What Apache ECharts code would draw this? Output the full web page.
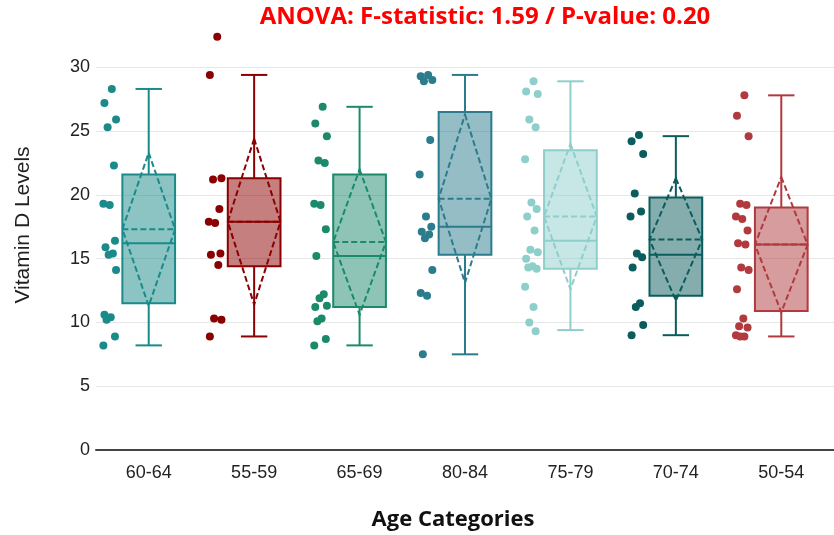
<!DOCTYPE html>
<html>
<head>
<meta charset="utf-8">
<script src="https://cdn.jsdelivr.net/npm/echarts@6/dist/echarts.min.js"></script>
<style>
    html, body { margin: 0; padding: 0; background: #fff; }
    #chart { width: 834px; height: 535px; }
</style>
</head>
<body>
<div id="chart"></div>
<script>
// 年龄组
var categories = ['60-64', '55-59', '65-69', '80-84', '75-79', '70-74', '50-54'];
var groupColors = ['#1a8a8a', '#8b0000', '#1b8a6b', '#2b7c8c', '#8ecfcb', '#0b5c5c', '#b03a3e'];

// 每组的原始点
var points_6064 = [28.3, 27.2, 25.9, 25.3, 22.3, 19.3, 19.2, 16.4, 15.9, 15.4, 15.3, 14.1, 10.6, 10.4, 10.2, 8.9, 8.2];
var points_5559 = [32.4, 29.4, 21.3, 21.2, 18.9, 17.9, 17.8, 15.4, 15.3, 14.5, 10.3, 10.2, 8.9];
var points_6569 = [26.9, 25.6, 24.6, 22.7, 22.5, 19.3, 19.2, 17.3, 15.2, 12.2, 11.9, 11.3, 11.2, 10.3, 10.1, 8.7, 8.2];
var points_8084 = [29.4, 29.3, 29.0, 28.9, 24.3, 21.6, 18.3, 17.5, 17.1, 16.9, 16.6, 14.1, 12.3, 12.1, 7.5];
var points_7579 = [28.9, 28.1, 27.9, 25.9, 25.3, 22.8, 19.4, 18.9, 18.3, 17.2, 15.7, 15.5, 15.0, 14.4, 14.3, 14.2, 12.8, 11.2, 10.0, 9.3];
var points_7074 = [24.7, 24.2, 23.2, 20.1, 18.7, 18.3, 15.4, 15.1, 14.3, 11.5, 11.2, 9.8, 9.0];
var points_5054 = [27.8, 26.2, 24.6, 19.3, 19.2, 18.3, 18.1, 17.2, 16.2, 16.1, 14.3, 14.1, 12.6, 10.3, 9.7, 9.6, 9.0, 8.9, 8.9];
var allPoints = [points_6064, points_5559, points_6569, points_8084, points_7579, points_7074, points_5054];

// 箱线统计 (按组顺序)
var whiskerLow = [8.2, 8.9, 8.2, 7.5, 9.4, 9.0, 8.9];
var q1Values = [11.5, 14.4, 11.2, 15.3, 14.2, 12.1, 10.9];
var medianValues = [16.2, 17.9, 15.2, 17.5, 16.4, 15.3, 16.1];
var q3Values = [21.6, 21.3, 21.6, 26.5, 23.5, 19.8, 19.0];
var whiskerHigh = [28.3, 29.4, 26.9, 29.4, 28.9, 24.6, 27.8];
var meanValues = [17.3, 17.9, 16.3, 19.7, 18.3, 16.5, 16.1];
var sdValues = [6.0, 6.5, 5.7, 6.6, 5.7, 4.8, 5.3];

var yTicks = [0, 5, 10, 15, 20, 25, 30];

// 点的抖动
var jitter = [0.02, -0.05, 0.06, -0.02, 0.04, -0.06, 0.0, 0.05, -0.04, 0.03, -0.01, 0.06, -0.05, 0.01, -0.03, 0.05, -0.06, 0.02, -0.02, 0.04];

function hexToRgba(hex, a) {
    var r = parseInt(hex.slice(1, 3), 16), g = parseInt(hex.slice(3, 5), 16), b = parseInt(hex.slice(5, 7), 16);
    return 'rgba(' + r + ',' + g + ',' + b + ',' + a + ')';
}

var boxData = categories.map(function (c, i) {
    return [i, whiskerLow[i], q1Values[i], medianValues[i], q3Values[i], whiskerHigh[i], meanValues[i], sdValues[i]];
});

function renderBox(params, api) {
    var i = api.value(0);
    var color = groupColors[i];
    var cx = api.coord([i, 0])[0];
    var band = api.size([1, 0])[0];
    var half = band * 0.25;
    var cap = half * 0.5;
    function Y(v) { return api.coord([i, v])[1]; }
    var lo = Y(api.value(1)), q1 = Y(api.value(2)), med = Y(api.value(3)),
        q3 = Y(api.value(4)), hi = Y(api.value(5));
    var mean = api.value(6), sd = api.value(7);
    var ym = Y(mean), ytop = Y(mean + sd), ybot = Y(mean - sd);
    var solid = { stroke: color, lineWidth: 2, fill: null };
    var dashed = { stroke: color, lineWidth: 2, fill: null, lineDash: [6, 3] };
    return {
        type: 'group',
        children: [
            { type: 'line', shape: { x1: cx, y1: q3, x2: cx, y2: hi }, style: solid },
            { type: 'line', shape: { x1: cx - cap, y1: hi, x2: cx + cap, y2: hi }, style: solid },
            { type: 'line', shape: { x1: cx, y1: q1, x2: cx, y2: lo }, style: solid },
            { type: 'line', shape: { x1: cx - cap, y1: lo, x2: cx + cap, y2: lo }, style: solid },
            { type: 'rect', shape: { x: cx - half, y: q3, width: half * 2, height: q1 - q3 },
              style: { fill: hexToRgba(color, 0.5), stroke: color, lineWidth: 2 } },
            { type: 'line', shape: { x1: cx - half, y1: med, x2: cx + half, y2: med }, style: solid },
            { type: 'line', shape: { x1: cx - half, y1: ym, x2: cx + half, y2: ym }, style: dashed },
            { type: 'polygon', shape: { points: [[cx, ytop], [cx + half, ym], [cx, ybot], [cx - half, ym]] }, style: dashed }
        ]
    };
}

var scatterSeries = allPoints.map(function (arr, i) {
    return {
        type: 'scatter',
        xAxisIndex: 1,
        symbolSize: 8,
        itemStyle: { color: groupColors[i], opacity: 1 },
        silent: true,
        z: 3,
        data: arr.map(function (v, k) { return [i - 0.37 + jitter[k % jitter.length], v]; })
    };
});

var chart = echarts.init(document.getElementById('chart'));

var gridColors = yTicks.map(function () { return '#e6e6e6'; });
gridColors.push('rgba(0,0,0,0)');

var option = {
    animation: false,
    backgroundColor: '#fff',
    grid: { left: 96, top: 29, bottom: 85, width: 744 },
    xAxis: [
        {
            type: 'category',
            data: categories,
            axisTick: { show: false },
            axisLine: { lineStyle: { color: '#444', width: 2 } },
            axisLabel: { color: '#222', fontSize: 18, fontFamily: 'Liberation Sans', margin: 14 },
            splitLine: { show: false }
        },
        {
            type: 'value',
            min: -0.5,
            max: 6.5,
            show: false
        }
    ],
    yAxis: {
        type: 'value',
        min: 0,
        max: 33,
        interval: 5,
        axisLine: { show: false },
        axisTick: { show: false },
        axisLabel: {
            color: '#222', fontSize: 18, fontFamily: 'Liberation Sans', margin: 6,
            formatter: function (v) { return yTicks.indexOf(v) >= 0 ? String(v) : ''; }
        },
        splitLine: { show: true, lineStyle: { color: gridColors, width: 1 } }
    },
    graphic: [
        { type: 'text', x: 485, y: 17,
          style: { text: 'ANOVA: F-statistic: 1.59 / P-value: 0.20', fill: '#ff0000', font: 'bold 24px "Open Sans"', textAlign: 'center', textVerticalAlign: 'middle' } },
        { type: 'text', x: 453, y: 520,
          style: { text: 'Age Categories', fill: '#111', font: 'bold 22px "Open Sans"', textAlign: 'center', textVerticalAlign: 'middle' } },
        { type: 'text', x: 23, y: 225, rotation: Math.PI / 2,
          style: { text: 'Vitamin D Levels', fill: '#222', font: '21px "Liberation Sans"', textAlign: 'center', textVerticalAlign: 'middle' } }
    ],
    series: [
        {
            type: 'custom',
            xAxisIndex: 0,
            renderItem: renderBox,
            encode: { x: 0, y: [1, 2, 3, 4, 5] },
            data: boxData,
            silent: true,
            z: 2
        }
    ].concat(scatterSeries)
};

chart.setOption(option);
</script>
</body>
</html>
